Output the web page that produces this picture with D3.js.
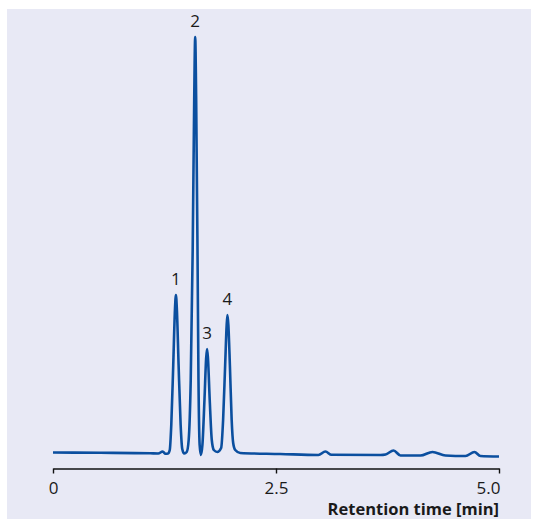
<!DOCTYPE html>
<html>
<head>
<meta charset="utf-8">
<script src="https://cdn.jsdelivr.net/npm/d3@7"></script>
<style>
  html, body { margin: 0; padding: 0; background: #ffffff; }
  svg { display: block; font-family: 'Open Sans', 'DejaVu Sans', sans-serif; }
</style>
</head>
<body>
<div id="diagram"></div>
<script>
// chromatogram data (time in min, signal in arbitrary units)
const baselineTime = [0.00, 0.53, 1.09, 1.18, 1.23, 1.26, 1.29];
const baselineSignal = [5.5, 5.2, 4.7, 4.5, 6.5, 4.2, 4.5];
const peak1Time = [1.309, 1.326, 1.348, 1.367, 1.378, 1.389, 1.408, 1.431, 1.449, 1.471];
const peak1Signal = [8, 33, 93, 148, 163, 148, 93, 33, 9, 4.5];
const peak2Time = [1.499, 1.521, 1.544, 1.566, 1.583, 1.594, 1.605, 1.620, 1.631, 1.644, 1.658];
const peak2Signal = [6, 18, 78, 208, 358, 421, 358, 208, 78, 13, 3];
const peak3Time = [1.675, 1.698, 1.717, 1.727, 1.737, 1.757, 1.780, 1.803, 1.842];
const peak3Signal = [13, 58, 100, 109, 100, 58, 18, 8, 6];
const peak4Time = [1.885, 1.907, 1.930, 1.947, 1.956, 1.966, 1.983, 2.003, 2.020, 2.043, 2.099];
const peak4Signal = [10, 38, 93, 133, 143, 133, 93, 38, 15, 8, 5];
const tailTime = [2.548, 2.975, 3.054, 3.122, 3.672, 3.728, 3.818, 3.896, 4.120, 4.254, 4.400, 4.624, 4.725, 4.792, 5.000];
const tailSignal = [4, 3, 6.5, 3.2, 3, 3.5, 7.5, 2.5, 2.5, 6, 2.5, 2, 6, 2, 1.5];

const peakLabels = [
  { name: '1', time: 1.378, value: 163 },
  { name: '2', time: 1.594, value: 421 },
  { name: '3', time: 1.727, value: 109 },
  { name: '4', time: 1.956, value: 143 }
];
const tickValues = [0, 2.5, 5.0];
const tickLabels = ['0', '2.5', '5.0'];
const axisTitle = 'Retention time [min]';

!(function () {
  'use strict';
  let
    canvas = undefined,
    svg = undefined,
    xScale = undefined,
    yScale = undefined,

    setCanvas = undefined,
    setScales = undefined,
    setTrace = undefined,
    setLabels = undefined,
    setXAxis = undefined;

  canvas = {
    width: 533,
    height: 519,
    panel: { x: 7, y: 9, width: 524, height: 510 },
    plot: { left: 53, right: 499, top: 38, bottom: 458 },
    axisY: 468.5
  };

  setCanvas = function (contextSelector) {
    svg = d3.select(contextSelector)
      .append('svg')
      .attr('width', canvas.width)
      .attr('height', canvas.height);

    svg.append('rect')
      .attr('x', canvas.panel.x)
      .attr('y', canvas.panel.y)
      .attr('width', canvas.panel.width)
      .attr('height', canvas.panel.height)
      .attr('fill', '#e8e9f5');
  };

  setScales = function () {
    xScale = d3.scaleLinear()
      .domain([0, 5])
      .range([canvas.plot.left, canvas.plot.right]);
    yScale = d3.scaleLinear()
      .domain([0, 420])
      .range([canvas.plot.bottom, canvas.plot.top]);
  };

  setTrace = function () {
    const times = [].concat(baselineTime, peak1Time, peak2Time, peak3Time, peak4Time, tailTime);
    const values = [].concat(baselineSignal, peak1Signal, peak2Signal, peak3Signal, peak4Signal, tailSignal);
    const points = times.map(function (t, i) { return [t, values[i]]; });
    const line = d3.line()
      .x(function (d) { return xScale(d[0]); })
      .y(function (d) { return yScale(d[1]); })
      .curve(d3.curveMonotoneX);

    svg.append('path')
      .datum(points)
      .attr('d', line)
      .attr('fill', 'none')
      .attr('stroke', '#0b4f9f')
      .attr('stroke-width', 2.6)
      .attr('stroke-linejoin', 'round');
  };

  setLabels = function () {
    svg.append('g')
      .selectAll('text')
      .data(peakLabels)
      .join('text')
      .attr('x', function (d) { return xScale(d.time); })
      .attr('y', function (d) { return yScale(d.value) - 10; })
      .attr('text-anchor', 'middle')
      .attr('font-size', 17)
      .attr('fill', '#1a1a1a')
      .text(function (d) { return d.name; });
  };

  setXAxis = function () {
    const axis = d3.axisBottom(xScale)
      .tickValues(tickValues)
      .tickSize(5)
      .tickSizeOuter(0)
      .tickPadding(8)
      .tickFormat(function (d, i) { return tickLabels[i]; });

    const g = svg.append('g')
      .attr('transform', 'translate(0, ' + canvas.axisY + ')')
      .call(axis);

    g.select('.domain').attr('stroke', '#111').attr('stroke-width', 1.4);
    g.selectAll('.tick line').attr('stroke', '#111').attr('stroke-width', 1.4);
    g.selectAll('.tick text')
      .attr('font-size', 17)
      .attr('font-family', "'Open Sans', 'DejaVu Sans', sans-serif")
      .attr('fill', '#1a1a1a')
      .attr('text-anchor', function (d, i) { return i === tickValues.length - 1 ? 'end' : 'middle'; })
      .attr('dx', function (d, i) { return i === tickValues.length - 1 ? 1 : 0; });

    svg.append('text')
      .attr('x', canvas.plot.right)
      .attr('y', 515)
      .attr('text-anchor', 'end')
      .attr('font-size', 16.5)
      .attr('font-weight', 'bold')
      .attr('fill', '#1a1a1a')
      .text(axisTitle);
  };

  setCanvas('#diagram');
  setScales();
  setTrace();
  setLabels();
  setXAxis();
}());
</script>
</body>
</html>
